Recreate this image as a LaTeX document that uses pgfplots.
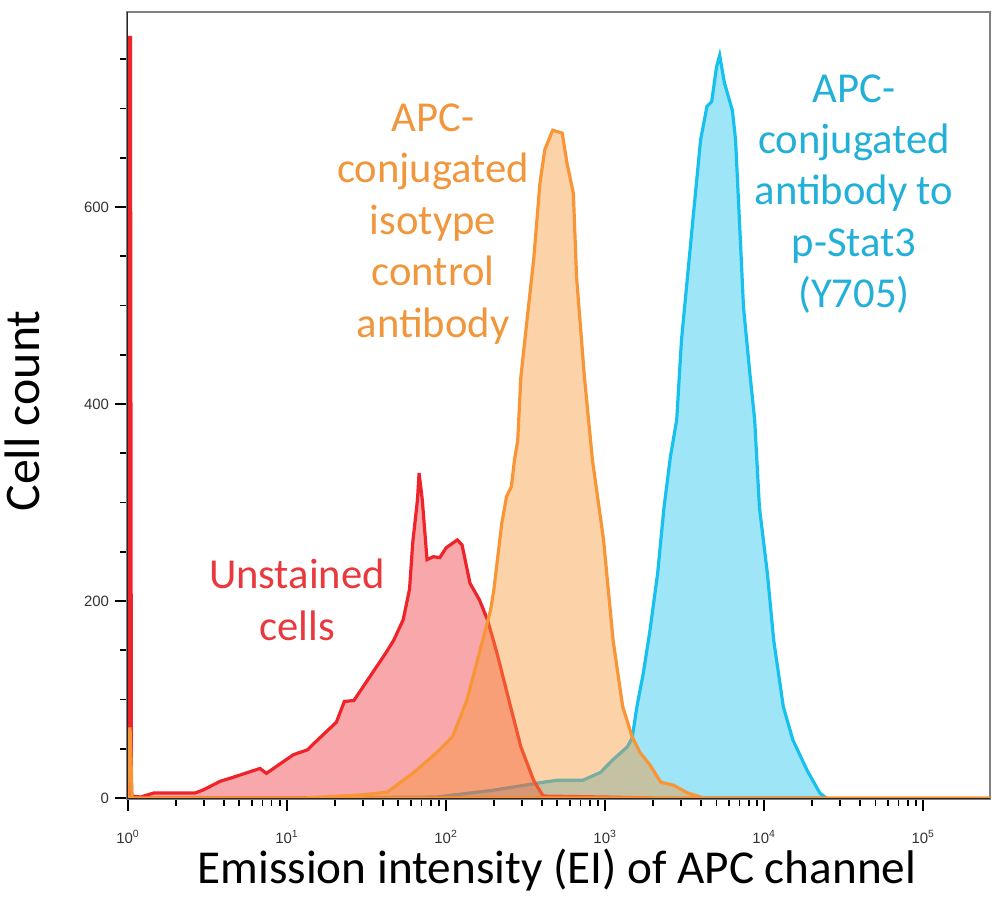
\documentclass[border=0pt]{standalone}
\usepackage{fontspec}
\setmainfont{Carlito}
\newfontfamily\tickfont{Liberation Sans}
\usepackage{pgfplots}
\pgfplotsset{compat=1.18}

\definecolor{redline}{RGB}{238,36,42}
\definecolor{orangeline}{RGB}{248,150,55}
\definecolor{cyanline}{RGB}{24,192,238}
\definecolor{redtext}{RGB}{232,58,62}
\definecolor{orangetext}{RGB}{240,150,60}
\definecolor{cyantext}{RGB}{34,176,216}
\definecolor{boxgray}{RGB}{128,128,128}

\begin{document}
\begin{tikzpicture}[x=1bp,y=1bp]
\path[use as bounding box] (-63.5,-50.5) rectangle (436.5,399.5);
\begin{axis}[
    at={(0,0)}, anchor=south west,
    scale only axis, width=431.5bp, height=393.5bp,
    xmode=log, xmin=0.985, xmax=263000,
    ymin=-1, ymax=798,
    axis line style={boxgray, line width=0.7bp},
    tick pos=left, tick align=outside,
    major tick length=6bp, minor tick length=3.5bp,
    tick style={black, line width=0.8bp},
    ytick={0,200,400,600},
    minor ytick={50,100,150,250,300,350,450,500,550,650,700,750},
    xtick={1,10,100,1000,10000,100000},
    xticklabels={10\textsuperscript{0},10\textsuperscript{1},10\textsuperscript{2},10\textsuperscript{3},10\textsuperscript{4},10\textsuperscript{5}},
    /pgf/number format/assume math mode=true,
    tick label style={font=\tickfont\fontsize{7.5}{8}\selectfont, text=black!80},
    xticklabel style={yshift=-6bp},
    yticklabel style={xshift=0.5bp},
    clip=true,
]
% p-Stat3 antibody (cyan), drawn first
\addplot[draw=cyanline, line width=1.6bp, fill=cyanline, fill opacity=0.42] coordinates {
    (12.6,0) (87.1,1) (199.5,8) (407.4,16) (501.2,18) (724.4,18) (933.3,26)
    (1122,39) (1380,52) (1479,61) (1585,93) (1738,127) (1905,168) (2138,228)
    (2344,295) (2570,346) (2818,384) (3020,465) (3311,533) (3548,584) (3981,668)
    (4365,702) (4677,707) (5012,742) (5248,754) (5623,726) (6310,698) (6607,668)
    (7079,567) (7413,498) (8128,431) (8710,384) (9333,295) (10470,228) (11480,160)
    (13180,93) (15140,59) (18620,28) (22390,5) (24550,0)
} \closedcycle;
% unstained cells (red)
\addplot[draw=redline, line width=1.6bp, fill=redline, fill opacity=0.4] coordinates {
    (1,772) (1.035,772) (1.05,2) (1.2,1) (1.445,5) (2.63,5) (2.95,8) (3.80,17)
    (4.57,21) (6.76,30) (7.41,25) (10.96,44) (13.49,49) (14.45,54) (20.42,77)
    (22.91,98) (26.30,99) (33.11,123) (41.69,147) (46.77,160) (53.70,181)
    (58.88,212) (61.66,259) (66.07,303) (67.61,330) (70.79,303) (75.86,242)
    (83.18,245) (91.20,244) (100,254) (117.5,262) (125.9,257) (141.3,218)
    (162.2,201) (182.0,181) (208.9,147) (251.2,96) (295.1,52) (354.8,18)
    (407.4,2) (1000,1) (2000,0)
} \closedcycle;
% isotype control (orange), drawn on top
\addplot[draw=orangeline, line width=1.6bp, fill=orangeline, fill opacity=0.43] coordinates {
    (1,70) (1.03,70) (1.06,0) (12.6,0) (28.8,3) (42.7,6) (61.7,25) (87.1,46)
    (109.6,62) (134.9,99) (169.8,160) (190.5,191) (199.5,211) (223.9,279)
    (239.9,306) (257,316) (269,343) (282,363) (295,427) (324,488) (355,546)
    (389,624) (417,658) (468,678) (537,675) (575,645) (631,614) (661,529)
    (741,427) (832,343) (977,262) (1122,160) (1288,93) (1479,62) (1660,46)
    (1905,34) (2239,16) (2692,13) (3311,5) (4169,0) (263000,0)
} \closedcycle;
\draw[black!85, line width=1bp] (rel axis cs:0,1) -- (rel axis cs:0,0) -- (rel axis cs:1,0);
\end{axis}

\node[anchor=base, font=\fontsize{23.7}{28}\selectfont] at (215,-42.5)
    {Emission intensity (EI) of APC channel};
\node[rotate=90, font=\fontsize{25}{29}\selectfont] at (-52.5,194) {Cell count};

\node[align=center, text=redtext, font=\fontsize{21.4}{25.8}\selectfont] at (85,99.5)
    {Unstained\\cells};
\node[align=center, text=orangetext, font=\fontsize{21.4}{25.8}\selectfont] at (153,287.5)
    {APC-\\conjugated\\isotype\\control\\antibody};
\node[align=center, text=cyantext, font=\fontsize{21.4}{25.8}\selectfont] at (363.5,302.5)
    {APC-\\conjugated\\antibody to\\p-Stat3\\(Y705)};
\end{tikzpicture}
\end{document}
